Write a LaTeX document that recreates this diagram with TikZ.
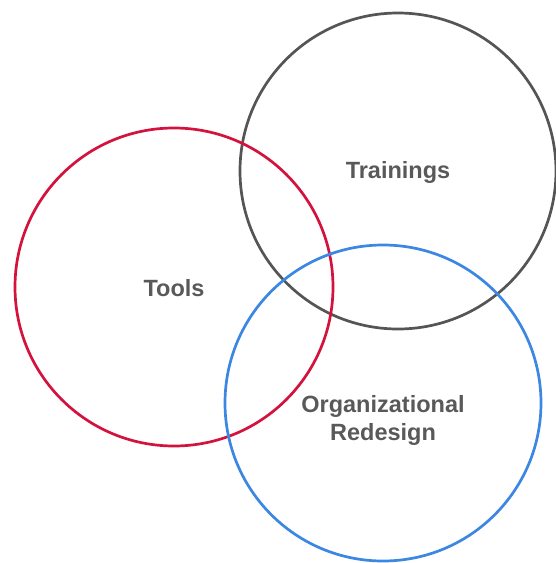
\documentclass[tikz,border=0pt]{standalone}
\usepackage{fontspec}
\usepackage{tikz}
\setmainfont{Liberation Sans}
\usetikzlibrary{positioning}
\tikzset{ring/.style = {line width = 2.7pt}}
\tikzset{lbl/.style = {font=\fontsize{23.5}{28}\selectfont\bfseries, text=mgray, align=center}}
\definecolor{mred}{HTML}{D4123E}
\definecolor{mdark}{HTML}{555555}
\definecolor{mblue}{HTML}{3B87E2}
\definecolor{mgray}{HTML}{595959}

\begin{document}
\begin{tikzpicture}[x=1pt, y=-1pt]
    \useasboundingbox (0, 0) rectangle (556, 563);

    \draw [ring, mdark] (398, 171) circle [radius=158];
    \draw [ring, mred] (174, 287) circle [radius=159];
    \draw [ring, mblue] (383, 403) circle [radius=158];

    \node [lbl] (trainings) at (398, 172) {Trainings};
    \node [lbl] (tools) at (174, 288) {Tools};
    \node [lbl] (redesign) at (383, 420) {Organizational\\Redesign};
  \end{tikzpicture}
\end{document}
